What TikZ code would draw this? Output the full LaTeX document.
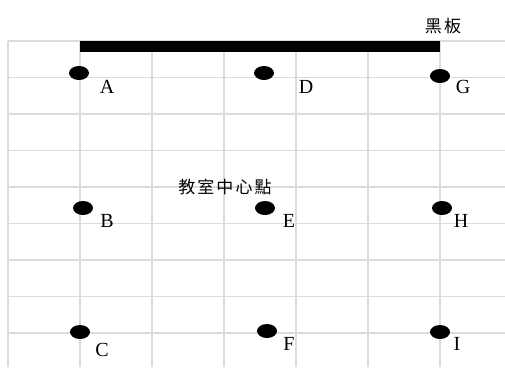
\documentclass[tikz,border=0pt]{standalone}
\usepackage{fontspec}
\setmainfont{Liberation Serif}
\newfontfamily\cjk[LetterSpace=12]{Noto Sans CJK TC}
\usetikzlibrary{shapes.geometric}
\begin{document}
\begin{tikzpicture}[x=1pt,y=-1pt,
  gridline/.style={draw=black!14,line width=1.3pt},
  seat/.style={ellipse,fill=black,minimum width=20pt,minimum height=14pt,inner sep=0pt},
  lbl/.style={inner sep=0pt,font=\fontsize{20}{20}\selectfont},
  cjklbl/.style={inner sep=0pt,font=\cjk\fontsize{17}{17}\selectfont}]
\useasboundingbox (0,0) rectangle (505,367);
% grid
\foreach \yy in {41,77.5,114,150.5,187,223.5,260,296.5,333}
  \draw[gridline] (8,\yy) -- (505,\yy);
\foreach \xx in {8,80,152,224,296,368,440}
  \draw[gridline] (\xx,41) -- (\xx,367);
% blackboard
\fill[black] (80,41) rectangle (440,51.5);
\node[cjklbl] (board) at (443,26) {黑板};
\node[cjklbl] (center) at (225,187) {教室中心點};
% seats
\node[seat] (A) at (79,73) {};
\node[seat] (D) at (264,73) {};
\node[seat] (G) at (440,76) {};
\node[seat] (B) at (83,208) {};
\node[seat] (E) at (265,208) {};
\node[seat] (H) at (442,208) {};
\node[seat] (C) at (80,332) {};
\node[seat] (F) at (267,331) {};
\node[seat] (I) at (440,332) {};
% labels
\node[lbl] (lA) at (107,87) {A};
\node[lbl] (lD) at (306,87) {D};
\node[lbl] (lG) at (463,87) {G};
\node[lbl] (lB) at (107,221) {B};
\node[lbl] (lE) at (289,221) {E};
\node[lbl] (lH) at (461,221) {H};
\node[lbl] (lC) at (102,350) {C};
\node[lbl] (lF) at (289,344) {F};
\node[lbl] (lI) at (457,344) {I};
\end{tikzpicture}
\end{document}
